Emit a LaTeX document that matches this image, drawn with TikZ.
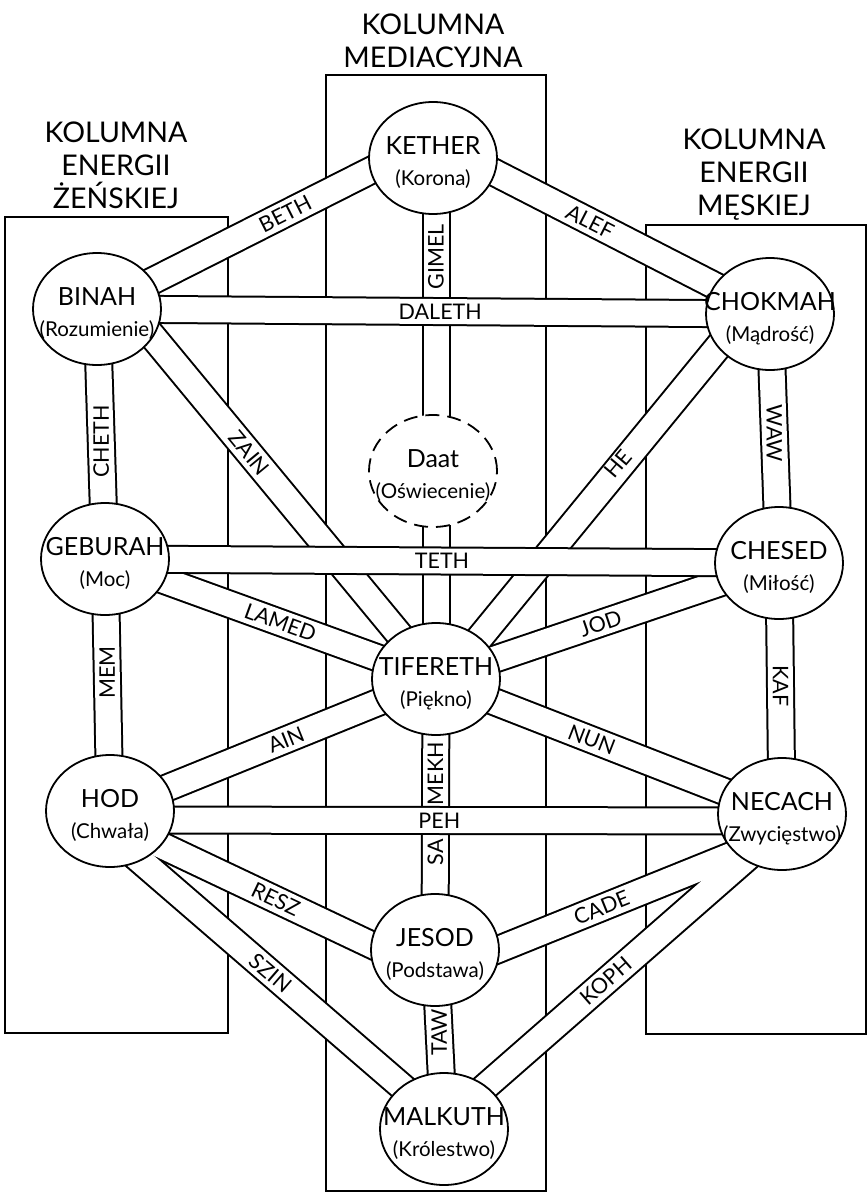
\documentclass[tikz,border=0pt]{standalone}
\usepackage{fontspec}
\setmainfont{Lato}
\usetikzlibrary{shapes.geometric}
\pgfdeclarelayer{cols}
\pgfdeclarelayer{dband}
\pgfdeclarelayer{hband}
\pgfsetlayers{cols,dband,hband,main}
\newcommand{\sefsub}{\fontsize{20.5}{31}\selectfont}
\newcommand{\sefup}{\rule{0pt}{27pt}}
\newcommand{\sef}[2]{\makebox[0pt]{\sefup #1}\\\makebox[0pt]{\sefsub #2}}
\newcommand{\sefirabands}[1]{%
  \draw[#1] (binah.center) -- ([shift={(0,-19)}]kether.center);
  \draw[#1] ([shift={(0,-17)}]kether.center) -- (chokmah.center);
  \draw[#1] ([shift={(3,0)}]kether.center) -- (tifereth.center);
  \draw[#1] (binah.center) -- (geburah.center);
  \draw[#1] (chokmah.center) -- (chesed.center);
  \draw[#1] ([shift={(33,0)}]binah.center) -- (tifereth.center);
  \draw[#1] ([shift={(-25,0)}]chokmah.center) -- ([shift={(10,0)}]tifereth.center);
  \draw[#1] (geburah.center) -- (tifereth.center);
  \draw[#1] (tifereth.center) -- (chesed.center);
  \draw[#1] (geburah.center) -- (hod.center);
  \draw[#1] (chesed.center) -- (necach.center);
  \draw[#1] (hod.center) -- (tifereth.center);
  \draw[#1] (tifereth.center) -- (necach.center);
  \draw[#1] (tifereth.center) -- (jesod.center);
  \draw[#1] ([shift={(0,10)}]hod.center) -- ([shift={(0,25)}]jesod.center);
  \draw[#1] ([shift={(0,25)}]jesod.center) -- ([shift={(0,21)}]necach.center);
  \draw[#1] ([shift={(-27,0)}]hod.center) -- ([shift={(7,0)}]malkuth.center);
  \draw[#1] ([shift={(-7,0)}]malkuth.center) -- ([shift={(15,0)}]necach.center);
  \draw[#1] (jesod.center) -- (malkuth.center);
}
\begin{document}
\begin{tikzpicture}[x=1pt,y=-1pt,
  bandout/.style={line width=29pt,black},
  bandin/.style={line width=25pt,white},
  sefira/.style={ellipse,draw,line width=1.8pt,fill=white,minimum width=128pt,minimum height=112pt,inner sep=0pt,align=center,font=\fontsize{25}{31}\selectfont},
  blabel/.style={font=\fontsize{21.5}{21.5}\selectfont,inner sep=0pt},
  collabel/.style={font=\fontsize{28.5}{33}\selectfont,align=center,inner sep=0pt},
  colbox/.style={line width=1.4pt}]
\useasboundingbox (0,0) rectangle (867,1193);

% sefirot
\node[sefira] (kether) at (433,158) {\sef{KETHER}{(Korona)}};
\node[sefira] (binah) at (97,309) {\sef{BINAH}{(Rozumienie)}};
\node[sefira] (chokmah) at (770,314) {\sef{CHOKMAH}{(Mądrość)}};
\node[sefira,dashed,dash pattern=on 14pt off 8pt] (daat) at (433,471) {\sef{Daat}{(Oświecenie)}};
\node[sefira] (geburah) at (105,559) {\sef{GEBURAH}{(Moc)}};
\node[sefira] (chesed) at (779,563) {\sef{CHESED}{(Miłość)}};
\node[sefira] (tifereth) at (436,679) {\sef{TIFERETH}{(Piękno)}};
\node[sefira] (hod) at (110,811) {\sef{HOD}{(Chwała)}};
\node[sefira] (necach) at (782,814) {\sef{NECACH}{(Zwycięstwo)}};
\node[sefira] (jesod) at (435,950) {\sef{JESOD}{(Podstawa)}};
\node[sefira] (malkuth) at (444,1129) {\sef{MALKUTH}{(Królestwo)}};

% column labels
\node[collabel] (colL) at (116,165) {KOLUMNA\\ENERGII\\ŻEŃSKIEJ};
\node[collabel] (colM) at (433,41) {KOLUMNA\\MEDIACYJNA};
\node[collabel] (colR) at (754,175) {KOLUMNA\\ENERGII\\MĘSKIEJ};

\begin{pgfonlayer}{cols}
\draw[colbox] (5,217) rectangle (228,1033);
\draw[colbox] (326,75) rectangle (546,1191);
\draw[colbox] (646,225) rectangle (866,1034);
\end{pgfonlayer}

\begin{pgfonlayer}{dband}
\sefirabands{bandout}
\sefirabands{bandin}
\path (binah.center) -- ([shift={(0,-19)}]kether.center) node[blabel,pos=0.56,sloped] (lbeth) {BETH};
\path ([shift={(0,-17)}]kether.center) -- (chokmah.center) node[blabel,pos=0.466,sloped] (lalef) {ALEF};
\path ([shift={(3,0)}]kether.center) -- (tifereth.center) node[blabel,pos=0.19,rotate=90] (lgimel) {GIMEL};
\path (binah.center) -- (geburah.center) node[blabel,pos=0.53,rotate=90] (lcheth) {CHETH};
\path (chokmah.center) -- (chesed.center) node[blabel,pos=0.48,rotate=-90] (lwaw) {WAW};
\path ([shift={(33,0)}]binah.center) -- (tifereth.center) node[blabel,pos=0.39,sloped] (lzain) {ZAIN};
\path (tifereth.center) -- ([shift={(-25,0)}]chokmah.center) node[blabel,pos=0.59,sloped] (lhe) {HE};
\path (geburah.center) -- (tifereth.center) node[blabel,pos=0.53,sloped] (llamed) {LAMED};
\path (tifereth.center) -- (chesed.center) node[blabel,pos=0.48,sloped] (ljod) {JOD};
\path (geburah.center) -- (hod.center) node[blabel,pos=0.45,rotate=90] (lmem) {MEM};
\path (chesed.center) -- (necach.center) node[blabel,pos=0.49,rotate=-90] (lkaf) {KAF};
\path (hod.center) -- (tifereth.center) node[blabel,pos=0.54,sloped] (lain) {AIN};
\path (tifereth.center) -- (necach.center) node[blabel,pos=0.45,sloped] (lnun) {NUN};
\path (tifereth.center) -- (jesod.center) node[blabel,pos=0.46,rotate=90] (lsamekh) {SA\hspace{34pt}MEKH};
\path ([shift={(0,10)}]hod.center) -- ([shift={(0,25)}]jesod.center) node[blabel,pos=0.51,sloped] (lresz) {RESZ};
\path ([shift={(0,25)}]jesod.center) -- ([shift={(0,21)}]necach.center) node[blabel,pos=0.48,sloped] (lcade) {CADE};
\path ([shift={(-27,0)}]hod.center) -- ([shift={(7,0)}]malkuth.center) node[blabel,pos=0.51,sloped] (lszin) {SZIN};
\path ([shift={(-7,0)}]malkuth.center) -- ([shift={(15,0)}]necach.center) node[blabel,pos=0.47,sloped] (lkoph) {KOPH};
\path (jesod.center) -- (malkuth.center) node[blabel,pos=0.46,rotate=90] (ltaw) {TAW};
\end{pgfonlayer}

\begin{pgfonlayer}{hband}
\draw[bandout] (binah.center) -- (chokmah.center);
\draw[bandin] (binah.center) -- (chokmah.center);
\path (binah.center) -- (chokmah.center) node[blabel,pos=0.51] (ldaleth) {DALETH};
\draw[bandout] (geburah.center) -- (chesed.center);
\draw[bandin] (geburah.center) -- (chesed.center);
\path (geburah.center) -- (chesed.center) node[blabel,pos=0.5] (lteth) {TETH};
\draw[bandout] ([shift={(0,9)}]hod.center) -- ([shift={(0,7)}]necach.center);
\draw[bandin] ([shift={(0,9)}]hod.center) -- ([shift={(0,7)}]necach.center);
\path ([shift={(0,9)}]hod.center) -- ([shift={(0,7)}]necach.center) node[blabel,pos=0.49] (lpeh) {PEH};
\end{pgfonlayer}
\end{tikzpicture}
\end{document}
